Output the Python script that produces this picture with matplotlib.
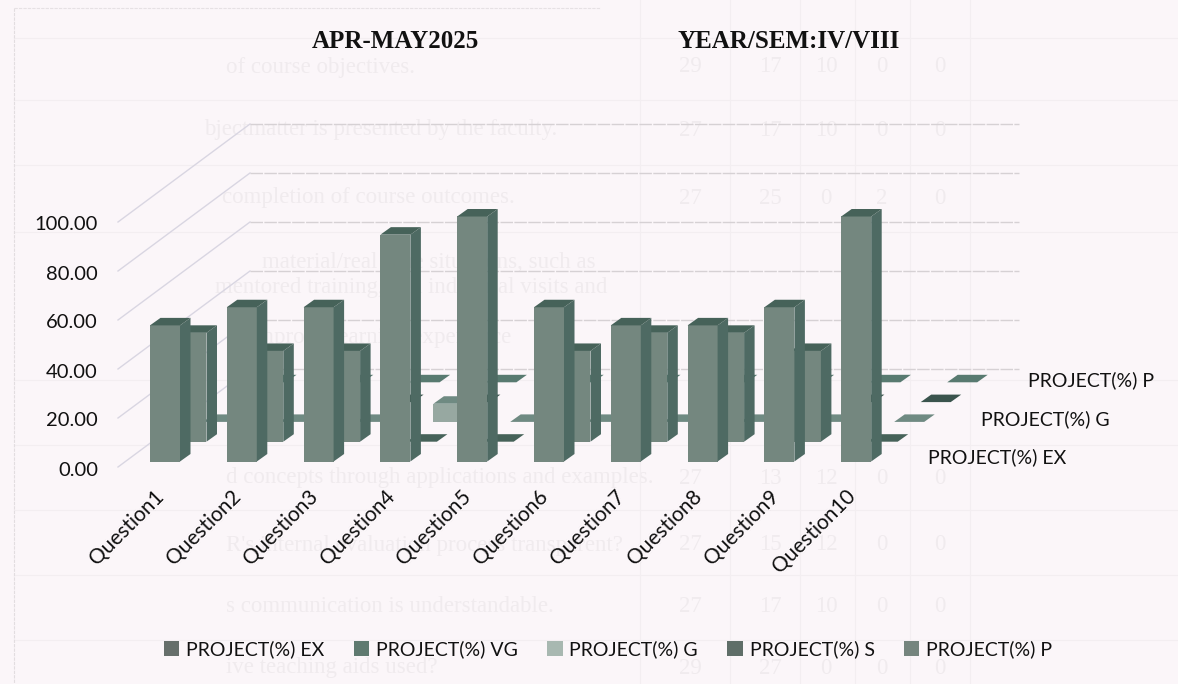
import matplotlib
matplotlib.use('Agg')
import matplotlib.pyplot as plt
from matplotlib.patches import Patch

questions = ['Question1', 'Question2', 'Question3', 'Question4', 'Question5',
             'Question6', 'Question7', 'Question8', 'Question9', 'Question10']
series_names = ['PROJECT(%) EX', 'PROJECT(%) VG', 'PROJECT(%) G', 'PROJECT(%) S', 'PROJECT(%) P']
ex = [55.56, 62.96, 62.96, 92.59, 100.0, 62.96, 55.56, 55.56, 62.96, 100.0]
vg = [44.44, 37.04, 37.04, 0, 0, 37.04, 44.44, 44.44, 37.04, 0]
g = [0, 0, 0, 7.41, 0, 0, 0, 0, 0, 0]
s = [0, 0, 0, 0, 0, 0, 0, 0, 0, 0]
p = [0, 0, 0, 0, 0, 0, 0, 0, 0, 0]
y_ticks = [0, 20, 40, 60, 80, 100]
depth_labels = ['PROJECT(%) EX', 'PROJECT(%) G', 'PROJECT(%) P']

# show-through from the page behind the scan
ghost_lines = ['of course objectives.', 'bjectmatter is presented by the faculty.',
               'completion of course outcomes.',
               'material/real time situations, such as',
               'mentored training, and industrial visits and',
               'improve learning experience',
               'd concepts through applications and examples.',
               "R's internal evaluation process transparent?",
               's communication is understandable.', 'ive teaching aids used?']
ghost_nums = [['29', '17', '10', '0', '0'], ['27', '17', '10', '0', '0'], ['27', '25', '0', '2', '0'],
              None, None, None, ['27', '13', '12', '0', '0'], ['27', '15', '12', '0', '0'],
              ['27', '17', '10', '0', '0'], ['29', '27', '0', '0', '0']]
ghost_y = [67, 130, 198, 262, 288, 338, 478, 545, 606, 668]
ghost_x = [226, 204, 222, 262, 215, 250, 226, 226, 226, 226]

PX_X = 76.8   # pixels per category
PX_Y = 2.45   # pixels per percent
X0, Y0 = 150, 461.5  # first bar, front bottom corner in pixels
BG = '#fbf6f9'
GHOST = '#f0ebee'

fig = plt.figure(figsize=(11.78, 6.84), dpi=100, facecolor=BG)
ax = fig.add_axes([0, 0, 1, 1])
ax.set_xlim(-X0 / PX_X, (1178 - X0) / PX_X)
ax.set_ylim((Y0 - 684) / PX_Y, Y0 / PX_Y)
ax.axis('off')


def px(x, y):
    return (x - X0) / PX_X, (Y0 - y) / PX_Y


# ghost page
for i, yy in enumerate(ghost_y):
    tx, ty = px(ghost_x[i], yy)
    ax.text(tx, ty, ghost_lines[i], family='Liberation Serif', fontsize=16.5, color=GHOST,
            ha='left', va='center', zorder=0, clip_on=True)
    if ghost_nums[i]:
        for xx, n in zip([690, 770, 826, 882, 940], ghost_nums[i]):
            ax.text(px(xx, yy)[0], ty, n, family='Liberation Serif', fontsize=16.5, color=GHOST,
                    ha='center', va='center', zorder=0)
for yy in [38, 100, 165, 232, 380, 445, 510, 575, 640]:
    ax.plot(*zip(px(14, yy), px(1178, yy)), color='#f3eef1', lw=0.8, zorder=0)
for xx in [640, 730, 800, 855, 910, 970]:
    ax.plot(*zip(px(xx, 0), px(xx, 684)), color='#f3eef1', lw=0.8, zorder=0)
ax.plot(*zip(px(14, 8), px(14, 684)), color='#e2dde0', lw=0.8, ls=(0, (3, 1)), zorder=0)
ax.plot(*zip(px(14, 8), px(600, 8)), color='#e6e1e4', lw=0.8, ls=(0, (3, 1)), zorder=0)

# walls
for v in y_ticks:
    front = px(118, 467 - PX_Y * v)
    back = px(250, 369 - PX_Y * v)
    end = px(1019, 369 - PX_Y * v)
    ax.plot(*zip(front, back), color='#d9d6e2', lw=1, zorder=1)
    ax.plot(*zip(back, end), color='#d6d1d4', lw=1, ls=(0, (9, 1)), zorder=1)
    ax.text(px(98, 0)[0], px(0, 470 - PX_Y * v)[1], '%.2f' % v, family='Lato', fontsize=14.5,
            color='#111111', ha='right', va='center')

# bars, back row first
width = 30 / PX_X
step_x = 26.5 / PX_X
step_y = 19.8 / PX_Y
dep_x = 10.5 / PX_X
dep_y = 7.5 / PX_Y
front_cols = ['#74877f', '#74877f', '#97a8a1', '#6f8780', '#74877f']
side_cols = ['#4e6a63', '#4e6a63', '#7c918a', '#4e6a63', '#4e6a63']
top_cols = ['#466259', '#466259', '#6f8a82', '#3a544d', '#587a70']
rows = [ex, vg, g, s, p]
z = 2
for k in range(4, -1, -1):
    for i, v in enumerate(rows[k]):
        x0 = i + k * step_x
        b = k * step_y
        ax.bar(x0, v, width, bottom=b, align='edge', color=front_cols[k], lw=0, zorder=z)
        ax.fill([x0 + width, x0 + width + dep_x, x0 + width + dep_x, x0 + width],
                [b, b + dep_y, b + v + dep_y, b + v], color=side_cols[k], lw=0, zorder=z)
        ax.fill([x0, x0 + dep_x, x0 + width + dep_x, x0 + width],
                [b + v, b + v + dep_y, b + v + dep_y, b + v], color=top_cols[k], lw=0, zorder=z)
        z += 1

# axis text
for i, q in enumerate(questions):
    ax.text(i + 4 / PX_X, px(0, 486)[1], q, family='Lato', fontsize=15, color='#111111', rotation=45,
            rotation_mode='anchor', ha='right', va='top', zorder=50)
for name, lx, ly in zip(depth_labels, [928, 981, 1028], [457, 419, 380]):
    ax.text(*px(lx, ly), name, family='Lato', fontsize=14, color='#111111', va='center', zorder=50)

ax.text(*px(312, 42), 'APR-MAY2025', family='Liberation Serif', weight='bold', fontsize=18,
        color='#111111', va='center', zorder=50)
ax.text(*px(678, 42), 'YEAR/SEM:IV/VIII', family='Liberation Serif', weight='bold', fontsize=18,
        color='#111111', va='center', zorder=50)

leg_cols = ['#666f6b', '#5f7a70', '#a8b8b1', '#5f6e68', '#75857e']
handles = [Patch(facecolor=c, edgecolor='none') for c in leg_cols]
ax.legend(handles, series_names, ncol=5, frameon=False, loc='center', bbox_to_anchor=(608 / 1178, 1 - 649 / 684),
          bbox_transform=fig.transFigure, prop={'family': 'Lato', 'size': 14}, handlelength=0.8, handleheight=0.8,
          handletextpad=0.35, columnspacing=1.5, labelcolor='#111111')

fig.savefig('out.png', dpi=100, facecolor=BG)
